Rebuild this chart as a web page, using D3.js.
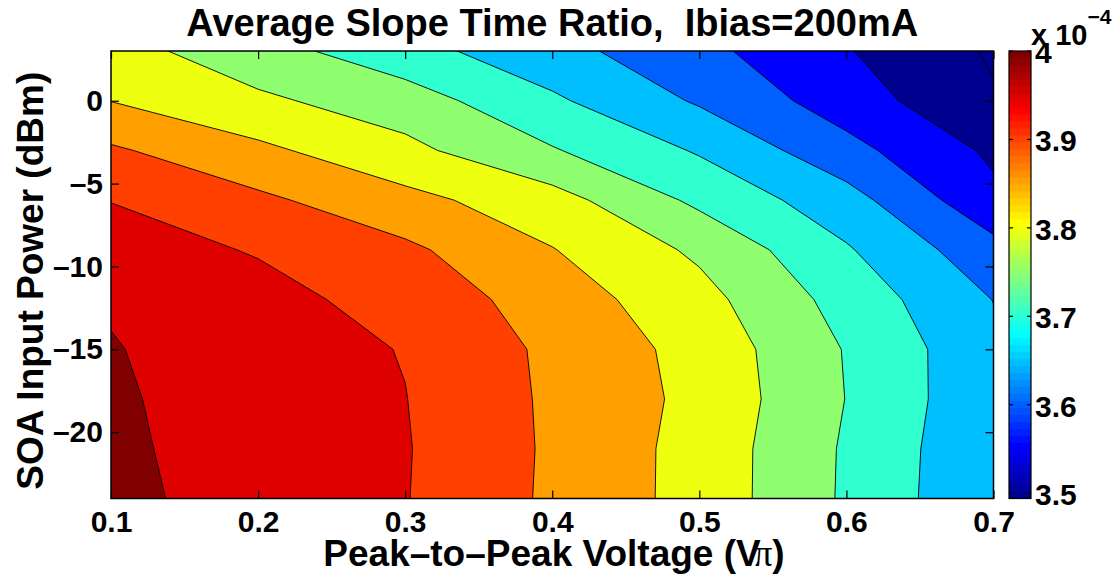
<!DOCTYPE html>
<html>
<head>
<meta charset="utf-8">
<script src="https://cdn.jsdelivr.net/npm/d3@7"></script>
<style>
  html, body { margin: 0; padding: 0; background: #ffffff; }
  svg { display: block; font-family: "Liberation Sans", Arial, Helvetica, sans-serif; font-weight: bold; }
</style>
</head>
<body>
<svg id="chart" width="1120" height="575"></svg>
<script>
// Peak-to-peak drive voltage (units of V-pi): one grid column per value
const voltages = [0.1, 0.2, 0.3, 0.4, 0.5, 0.6, 0.7];
// SOA input power (dBm): one grid row per value, top row first
const powers = [3, 0, -3, -6, -9, -12, -15, -18, -21, -24];

// Average slope time ratio (x 10^-4), one array per input-power row
const ratioAt_p3  = [3.819, 3.770, 3.718, 3.667, 3.614, 3.553, 3.494];
const ratioAt_0   = [3.849, 3.809, 3.774, 3.708, 3.644, 3.575, 3.5045];
const ratioAt_m3  = [3.907, 3.861, 3.813, 3.754, 3.695, 3.616, 3.541];
const ratioAt_m6  = [3.949, 3.910, 3.865, 3.820, 3.739, 3.670, 3.562];
const ratioAt_m9  = [3.968, 3.947, 3.910, 3.852, 3.791, 3.705, 3.617];
const ratioAt_m12 = [3.995, 3.964, 3.934, 3.876, 3.817, 3.731, 3.649];
const ratioAt_m15 = [4.003, 3.972, 3.948, 3.890, 3.833, 3.747, 3.662];
const ratioAt_m18 = [4.006, 3.978, 3.951, 3.892, 3.837, 3.749, 3.661];
const ratioAt_m21 = [4.009, 3.978, 3.953, 3.893, 3.832, 3.744, 3.657];
const ratioAt_m24 = [4.013, 3.978, 3.952, 3.892, 3.832, 3.743, 3.655];

// Filled contour levels (x 10^-4)
const contourLevels = [3.50, 3.55, 3.60, 3.65, 3.70, 3.75, 3.80, 3.85, 3.90, 3.95, 4.00];

// Tick values
const xTicks = [0.1, 0.2, 0.3, 0.4, 0.5, 0.6, 0.7];
const yTicks = [0, -5, -10, -15, -20];
const colorbarTicks = [3.5, 3.6, 3.7, 3.8, 3.9, 4.0];

const titleText = "Average Slope Time Ratio,  Ibias=200mA";
const xLabelText = "Peak\u2013to\u2013Peak Voltage (V";
const yLabelText = "SOA Input Power (dBm)";

// ---------------------------------------------------------------------------
const rows = [ratioAt_p3, ratioAt_0, ratioAt_m3, ratioAt_m6, ratioAt_m9,
              ratioAt_m12, ratioAt_m15, ratioAt_m18, ratioAt_m21, ratioAt_m24];
const grid = rows.flat();
const nx = voltages.length, ny = powers.length;

const svg = d3.select("#chart");
const FONT = '"Liberation Sans", Arial, Helvetica, sans-serif';

const plot = { left: 111, right: 993.5, top: 51, bottom: 498.5 };
const x = d3.scaleLinear().domain([voltages[0], voltages[nx - 1]]).range([plot.left, plot.right]);
const y = d3.scaleLinear().domain([powers[ny - 1], powers[0]]).range([plot.bottom, plot.top]);

// jet colormap with 64 entries
function jet(m) {
  const n = Math.ceil(m / 4);
  const u = [];
  for (let i = 1; i <= n; i++) u.push(i / n);
  for (let i = 1; i < n; i++) u.push(1);
  for (let i = n; i >= 1; i--) u.push(i / n);
  const g0 = Math.ceil(n / 2) - (m % 4 === 1 ? 1 : 0);
  const J = Array.from({ length: m }, () => [0, 0, 0]);
  u.forEach((val, i) => {
    const g = g0 + i + 1, r = g + n, b = g - n;
    if (r >= 1 && r <= m) J[r - 1][0] = val;
    if (g >= 1 && g <= m) J[g - 1][1] = val;
    if (b >= 1 && b <= m) J[b - 1][2] = val;
  });
  return J.map(c => d3.rgb(Math.round(c[0] * 255), Math.round(c[1] * 255), Math.round(c[2] * 255)).formatHex());
}
const cmap = jet(64);
const cmin = d3.min(grid);
const cmax = contourLevels[contourLevels.length - 1];
function colorFor(v) {
  const t = (v - cmin) / (cmax - cmin);
  const idx = Math.max(0, Math.min(63, Math.floor(t * 64)));
  return cmap[idx];
}

// Grid coordinates from d3.contours -> data values -> pixels
const gx = d3.scaleLinear().domain([0.5, nx - 0.5]).range([voltages[0], voltages[nx - 1]]);
const gy = d3.scaleLinear().domain([0.5, ny - 0.5]).range([powers[0], powers[ny - 1]]);
const projection = d3.geoTransform({
  point: function (px, py) { this.stream.point(x(gx(px)), y(gy(py))); }
});
const path = d3.geoPath(projection);

svg.append("defs").append("clipPath").attr("id", "plot-clip")
  .append("rect")
  .attr("x", plot.left).attr("y", plot.top)
  .attr("width", plot.right - plot.left).attr("height", plot.bottom - plot.top);

const field = svg.append("g").attr("clip-path", "url(#plot-clip)");

// region below the lowest level
field.append("rect")
  .attr("x", plot.left).attr("y", plot.top)
  .attr("width", plot.right - plot.left).attr("height", plot.bottom - plot.top)
  .attr("fill", colorFor(cmin));

const bands = d3.contours().size([nx, ny]).thresholds(contourLevels)(grid);
field.selectAll("path.band")
  .data(bands)
  .join("path")
  .attr("class", "band")
  .attr("d", path)
  .attr("fill", d => colorFor(d.value))
  .attr("stroke", "#000")
  .attr("stroke-width", 0.9)
  .attr("stroke-linejoin", "round");

// Axes: ticks inside on all four sides
const fmtY = d => (d < 0 ? "\u2013" + Math.abs(d) : String(d));
const fmtX = d3.format(".1f");

function styleAxis(g) {
  g.select(".domain").remove();
  g.selectAll(".tick line").attr("stroke", "#000").attr("stroke-width", 1.2);
  g.selectAll(".tick text").attr("fill", "#000")
    .style("font-size", "30px").style("font-weight", "bold")
    .style("font-family", FONT);
}

svg.append("g").attr("transform", `translate(0,${plot.bottom})`)
  .call(d3.axisBottom(x).tickValues(xTicks).tickFormat(fmtX).tickSize(-8).tickSizeOuter(0).tickPadding(12))
  .call(styleAxis);
svg.append("g").attr("transform", `translate(0,${plot.top})`)
  .call(d3.axisTop(x).tickValues(xTicks).tickFormat("").tickSize(-8).tickSizeOuter(0))
  .call(styleAxis);
svg.append("g").attr("transform", `translate(${plot.left},0)`)
  .call(d3.axisLeft(y).tickValues(yTicks).tickFormat(fmtY).tickSize(-8).tickSizeOuter(0).tickPadding(8))
  .call(styleAxis);
svg.append("g").attr("transform", `translate(${plot.right},0)`)
  .call(d3.axisRight(y).tickValues(yTicks).tickFormat("").tickSize(-8).tickSizeOuter(0))
  .call(styleAxis);

svg.append("rect")
  .attr("x", plot.left).attr("y", plot.top)
  .attr("width", plot.right - plot.left).attr("height", plot.bottom - plot.top)
  .attr("fill", "none").attr("stroke", "#000").attr("stroke-width", 1.5);

// Title and axis labels
svg.append("text")
  .attr("x", (plot.left + plot.right) / 2).attr("y", 36)
  .attr("text-anchor", "middle")
  .style("font-size", "38px").style("white-space", "pre")
  .attr("xml:space", "preserve")
  .text(titleText);

const xl = svg.append("text")
  .attr("x", 554).attr("y", 566)
  .attr("text-anchor", "middle")
  .style("font-size", "37px");
xl.append("tspan").text(xLabelText);
xl.append("tspan").attr("dx", -7)
  .style("font-family", '"Liberation Serif", "DejaVu Serif", serif')
  .style("font-weight", "normal").text("\u03c0");
xl.append("tspan").text(")");

svg.append("text")
  .attr("transform", `translate(43,${(plot.top + plot.bottom) / 2 + 6}) rotate(-90)`)
  .attr("text-anchor", "middle")
  .style("font-size", "37px")
  .text(yLabelText);

// Colorbar
const cb = { left: 1009, right: 1031, top: plot.top, bottom: plot.bottom };
const cy = d3.scaleLinear().domain([cmin, cmax]).range([cb.bottom, cb.top]);
const steps = d3.range(64);
const stepSize = (cmax - cmin) / 64;
svg.append("g").selectAll("rect")
  .data(steps)
  .join("rect")
  .attr("x", cb.left)
  .attr("width", cb.right - cb.left)
  .attr("y", i => cy(cmin + (i + 1) * stepSize))
  .attr("height", i => cy(cmin + i * stepSize) - cy(cmin + (i + 1) * stepSize) + 0.5)
  .attr("fill", i => cmap[i]);

svg.append("rect")
  .attr("x", cb.left).attr("y", cb.top)
  .attr("width", cb.right - cb.left).attr("height", cb.bottom - cb.top)
  .attr("fill", "none").attr("stroke", "#000").attr("stroke-width", 1.2);

const cbt = svg.append("g");
colorbarTicks.forEach(v => {
  cbt.append("line").attr("x1", cb.left).attr("x2", cb.left + 4)
    .attr("y1", cy(v)).attr("y2", cy(v)).attr("stroke", "#000").attr("stroke-width", 1.2);
  cbt.append("line").attr("x1", cb.right - 4).attr("x2", cb.right)
    .attr("y1", cy(v)).attr("y2", cy(v)).attr("stroke", "#000").attr("stroke-width", 1.2);
  cbt.append("text").attr("x", cb.right + 4).attr("y", cy(v) + 12)
    .style("font-size", "30px").text(d3.format("~g")(v));
});

// Colorbar exponent label
const ex = svg.append("text").attr("x", 1031).attr("y", 45).style("font-size", "29px");
ex.append("tspan").text("x 10");
ex.append("tspan").attr("dy", -21).style("font-size", "21px").text("\u22124");
</script>
</body>
</html>
